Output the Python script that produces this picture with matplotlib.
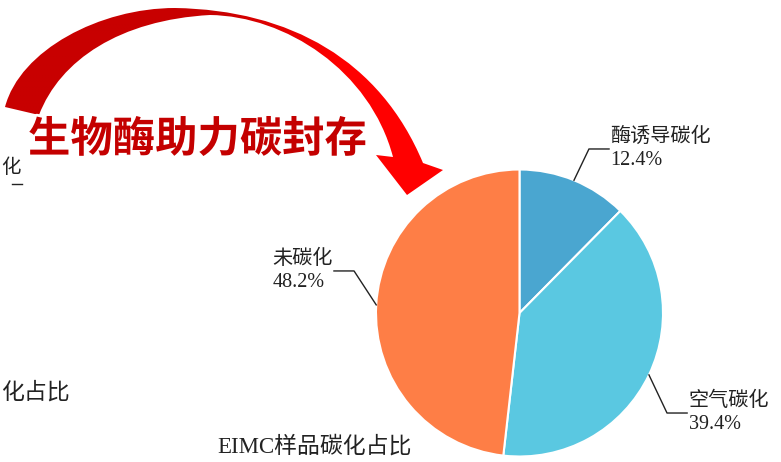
import numpy as np
import matplotlib.pyplot as plt
import matplotlib.patheffects as pe
from matplotlib.path import Path
from matplotlib.patches import PathPatch
from matplotlib.colors import LinearSegmentedColormap

# carbonisation shares of the EIMC sample
labels = ["酶诱导碳化", "空气碳化", "未碳化"]
shares = [12.4, 39.4, 48.2]
colors = ["#4AA6D0", "#5AC8E1", "#FE7E46"]
title = "EIMC样品碳化占比"
banner = "生物酶助力碳封存"

# leader-line elbows in pie-radius units, and which side the label hangs on
elbows = [(0.484, 1.143), (1.028, -0.697), (-1.153, 0.293)]
sides = [1, 1, -1]

serif_cjk = ["Liberation Serif", "Noto Sans CJK SC"]

W, H = 781, 462
fig = plt.figure(figsize=(W / 100, H / 100), dpi=100)
fig.patch.set_facecolor("white")

# pixel-space canvas for the decorations
bg = fig.add_axes([0, 0, 1, 1])
bg.axis("off")

# pie
cx, cy, r = 519.5, 313, 143.5
ax = fig.add_axes([(cx - r) / W, (H - cy - r) / H, 2 * r / W, 2 * r / H])
wedges, _ = ax.pie(shares, colors=colors, startangle=90, counterclock=False,
                   wedgeprops=dict(edgecolor="white", linewidth=1.5))
ax.set_xlim(-1, 1)
ax.set_ylim(-1, 1)
ax.set_aspect("equal")
ax.axis("off")

for w, lab, val, (ex, ey), side in zip(wedges, labels, shares, elbows, sides):
    mid = np.deg2rad((w.theta1 + w.theta2) / 2)
    x0, y0 = np.cos(mid), np.sin(mid)
    x2 = ex + side * 0.14
    ax.plot([x0, ex, x2], [y0, ey, ey], color="#222222", lw=1.0, clip_on=False)
    ax.text(x2 + side * 0.01, ey, f"{lab}\n{val}%", ha="left" if side > 0 else "right",
            va="center", multialignment="left", fontsize=14.5, linespacing=1.3,
            color="#222222", family=serif_cjk, clip_on=False)

# sweeping red arrow
M, C, L, Z = Path.MOVETO, Path.CURVE4, Path.LINETO, Path.CLOSEPOLY
verts = [(5, 107), (20, 50), (100, 8), (175, 8),
         (290, 10), (380, 60), (423, 163),
         (443, 170), (407, 195), (376, 155), (393, 157),
         (370, 70), (285, 16), (210, 15),
         (120, 20), (60, 60), (39, 115),
         (5, 107)]
codes = [M, C, C, C, C, C, C, L, L, L, L, C, C, C, C, C, C, Z]
arrow = PathPatch(Path(verts, codes), facecolor="none", edgecolor="none")
bg.add_patch(arrow)
ramp = np.clip((np.linspace(0, 450, 300) - 220) / 120, 0, 1)[None, :]
red_cmap = LinearSegmentedColormap.from_list("reds", ["#C80000", "#FF0000"])
img = bg.imshow(ramp, cmap=red_cmap, extent=(0, 450, 200, 0), aspect="auto",
                interpolation="bilinear")
img.set_clip_path(arrow)

bg.set_xlim(0, W)
bg.set_ylim(H, 0)

bg.text(28, 140, banner, fontsize=30.5, fontweight="bold", color="#C40000",
        family=["Noto Sans CJK SC", "DejaVu Sans"], ha="left", va="center",
        path_effects=[pe.withStroke(linewidth=4, foreground="white")])

bg.text(314, 447, title, fontsize=16.5, color="#222222", family=serif_cjk,
        ha="center", va="center")

# neighbouring chart at the left edge
bg.text(1, 393, "化占比", fontsize=16.5, color="#222222", family=serif_cjk,
        ha="left", va="center")
bg.text(1, 168, "化", fontsize=14, color="#222222", family=serif_cjk,
        ha="left", va="center")
bg.plot([12, 22], [184, 184], color="#222222", lw=1.0)

fig.savefig("out.png", dpi=100, facecolor="white")
